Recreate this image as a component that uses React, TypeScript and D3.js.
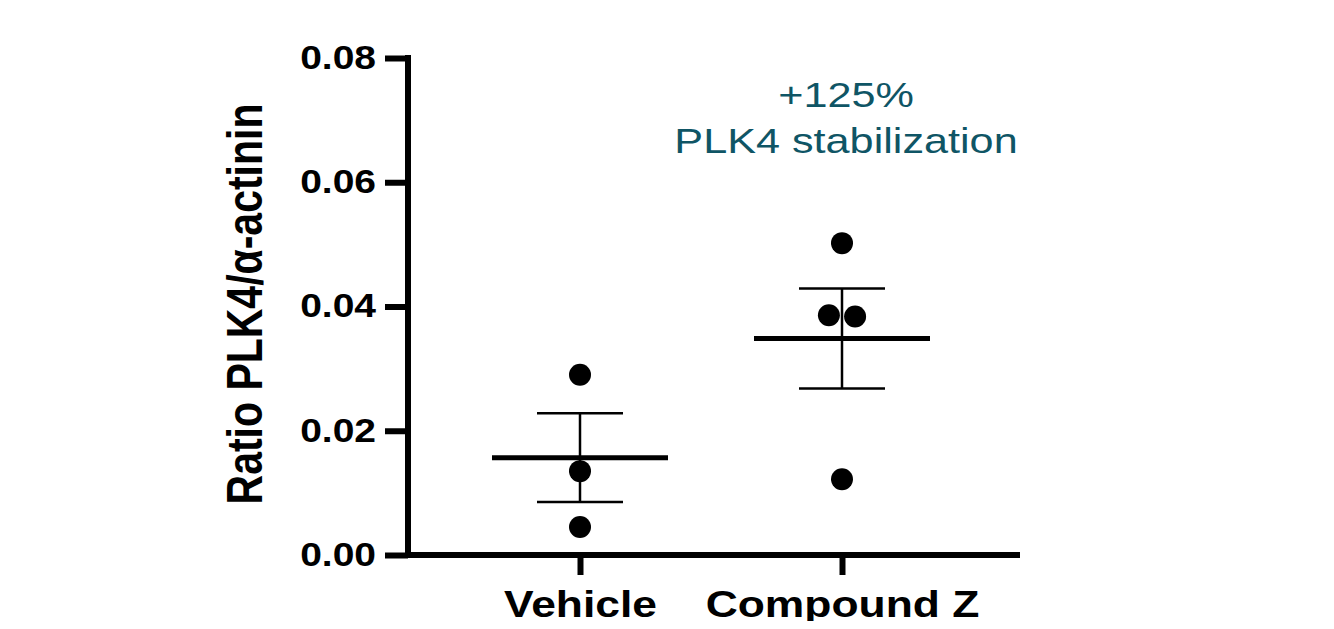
import React, { useEffect, useRef } from "react";
import * as d3 from "d3";

const groups = ["Vehicle", "Compound Z"];
const vehicleValues = [0.0290, 0.0135, 0.0045];
const compoundValues = [0.0502, 0.0386, 0.0384, 0.0122];
// horizontal jitter of each dot, in units of the group band
const vehicleJitter = [0, 0, 0];
const compoundJitter = [0, -0.05, 0.05, 0];
const yTicks = [0, 0.02, 0.04, 0.06, 0.08];
const annotation = ["+125%", "PLK4 stabilization"];

// the original figure is a bit stretched sideways, text included
const STRETCH = 1.2;

function App() {
  const chartRef = useRef(null);

  useEffect(() => {
    const svg = d3.select(chartRef.current);
    svg.selectAll("*").remove();

    const font = "'Liberation Sans', Arial, sans-serif";
    const x = d3.scalePoint().domain(groups).range([580, 842]);
    const y = d3.scaleLinear().domain([0, 0.08]).range([555, 58]);

    // y axis
    const yAxis = svg
      .append("g")
      .attr("transform", "translate(408,0)")
      .call(
        d3
          .axisLeft(y)
          .tickValues(yTicks)
          .tickFormat(d3.format(".2f"))
          .tickSize(23)
          .tickSizeOuter(0)
          .tickPadding(9)
      );
    yAxis.select(".domain").attr("stroke-width", 6).attr("d", `M0,${y(0.08) - 3}V${y(0) + 3}`);
    yAxis.selectAll(".tick line").attr("stroke-width", 6);
    yAxis
      .selectAll(".tick text")
      .attr("x", 0)
      .attr("transform", `translate(-32,0) scale(${STRETCH},1)`)
      .attr("font-family", font)
      .attr("font-weight", "bold")
      .attr("font-size", 32.5)
      .attr("fill", "#000");

    // x axis
    const xAxis = svg
      .append("g")
      .attr("transform", "translate(0,555)")
      .call(d3.axisBottom(x).tickSize(20).tickSizeOuter(0).tickPadding(16));
    xAxis.select(".domain").attr("stroke-width", 6).attr("d", "M405,0H1020");
    xAxis.selectAll(".tick line").attr("stroke-width", 6);
    xAxis
      .selectAll(".tick text")
      .attr("transform", `scale(${STRETCH},1)`)
      .attr("font-family", font)
      .attr("font-weight", "bold")
      .attr("font-size", 37)
      .attr("fill", "#000");

    // y label
    svg
      .append("text")
      .attr("transform", `translate(262,304) scale(${STRETCH},1) rotate(-90)`)
      .attr("text-anchor", "middle")
      .attr("font-family", font)
      .attr("font-weight", "bold")
      .attr("font-size", 41)
      .text("Ratio PLK4/α-actinin");

    const series = [
      { name: groups[0], values: vehicleValues, jitter: vehicleJitter },
      { name: groups[1], values: compoundValues, jitter: compoundJitter },
    ];
    const band = 262;

    series.forEach((s) => {
      const cx = x(s.name) as number;
      const mean = d3.mean(s.values) as number;
      const sd = d3.deviation(s.values) as number;
      const sem = sd / Math.sqrt(s.values.length);
      const g = svg.append("g");

      g.append("line")
        .attr("x1", cx)
        .attr("x2", cx)
        .attr("y1", y(mean + sem))
        .attr("y2", y(mean - sem))
        .attr("stroke", "#000")
        .attr("stroke-width", 2.5);
      [mean + sem, mean - sem].forEach((v) => {
        g.append("line")
          .attr("x1", cx - 43)
          .attr("x2", cx + 43)
          .attr("y1", y(v))
          .attr("y2", y(v))
          .attr("stroke", "#000")
          .attr("stroke-width", 2.5);
      });
      g.append("line")
        .attr("x1", cx - 88)
        .attr("x2", cx + 88)
        .attr("y1", y(mean))
        .attr("y2", y(mean))
        .attr("stroke", "#000")
        .attr("stroke-width", 5);

      g.selectAll("circle")
        .data(s.values)
        .enter()
        .append("circle")
        .attr("cx", (d, i) => cx + s.jitter[i] * band)
        .attr("cy", (d) => y(d))
        .attr("r", 11)
        .attr("fill", "#000");
    });

    // annotation
    const note = svg
      .append("g")
      .attr("transform", `translate(846,0) scale(${STRETCH},1)`);
    note
      .selectAll("text")
      .data(annotation)
      .enter()
      .append("text")
      .attr("x", 0)
      .attr("y", (d, i) => (i === 0 ? 107 : 153))
      .attr("text-anchor", "middle")
      .attr("font-family", font)
      .attr("font-size", 36)
      .attr("fill", "#0f5565")
      .text((d) => d);
  }, []);

  return (
    <div style={{ width: 1334, height: 629, margin: -8 }}>
      <svg ref={chartRef} width={1334} height={629} style={{ display: "block", background: "#fff" }} />
    </div>
  );
}

export default App;
